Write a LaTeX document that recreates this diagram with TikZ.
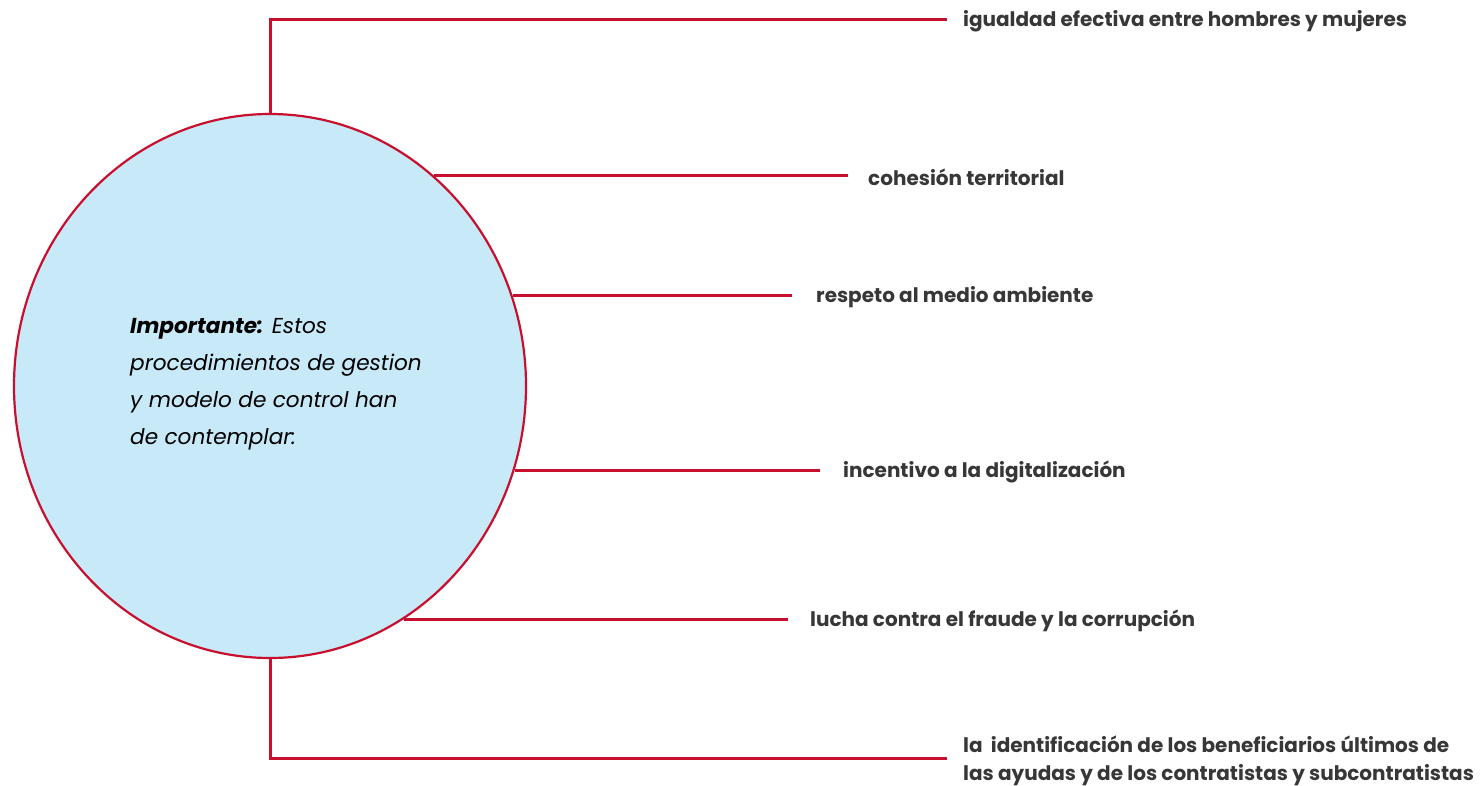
\documentclass[tikz,border=0pt]{standalone}
\usepackage{fontspec}
\setmainfont{Poppins}
\usetikzlibrary{shapes.geometric}
\definecolor{lred}{RGB}{200,16,46}
\definecolor{lblue}{RGB}{199,233,248}
\definecolor{ltext}{RGB}{55,55,55}
\begin{document}
\begin{tikzpicture}[x=1pt,y=-1pt,
  conn/.style={draw=lred,line width=3pt},
  lab/.style={anchor=west,inner sep=0pt,yshift=-2pt,text=ltext,font=\fontsize{20}{28}\selectfont\bfseries,align=left}]
\useasboundingbox (0,0) rectangle (1484,785);
\node[ellipse,draw=lred,line width=2.2pt,fill=lblue,minimum width=512pt,minimum height=544pt,inner sep=0pt] (c) at (270,386) {};
\node[anchor=north west,inner sep=0pt,align=left,font=\fontsize{21.6}{37}\selectfont\itshape] (t) at (130,318)
  {\textbf{Importante:} Estos\\procedimientos de gestion\\y modelo de control han\\de contemplar:};
\node[lab] (l1) at (963,19) {igualdad efectiva entre hombres y mujeres};
\node[lab] (l2) at (868,175) {cohesión territorial};
\node[lab] (l3) at (816,295) {respeto al medio ambiente};
\node[lab] (l4) at (843,470) {incentivo a la digitalización};
\node[lab] (l5) at (810,619) {lucha contra el fraude y la corrupción};
\node[lab,anchor=north west] (l6) at (963,734) {la\hspace{4pt} identificación de los beneficiarios últimos de\\las ayudas y de los contratistas y subcontratistas};
\coordinate (e1) at (947,19);
\coordinate (e2) at (848,175);
\coordinate (e3) at (792,295);
\coordinate (e4) at (820,470);
\coordinate (e5) at (788,619);
\coordinate (e6) at (947,758);
\draw[conn,line join=miter] (c.north) |- (e1);
\draw[conn] (e2 -| c.52.55) -- (e2);
\draw[conn] (e3 -| c.20.67) -- (e3);
\draw[conn] (e4 -| c.-19.03) -- (e4);
\draw[conn] (e5 -| c.-60.45) -- (e5);
\draw[conn,line join=miter] (c.south) |- (e6);
\end{tikzpicture}
\end{document}
